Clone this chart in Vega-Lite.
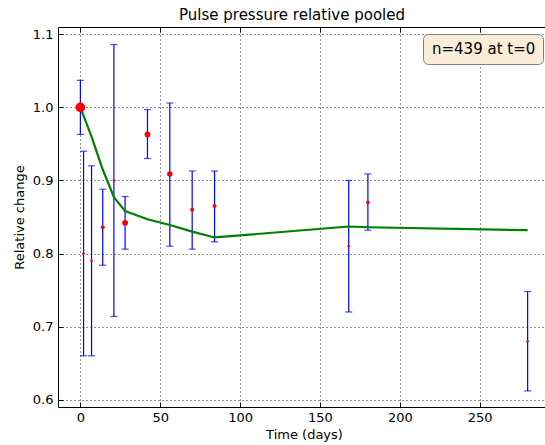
{
  "$schema": "https://vega.github.io/schema/vega-lite/v6.json",
  "width": 492,
  "height": 380,
  "autosize": {"type": "none"},
  "padding": {"left": 58, "top": 27, "right": 0, "bottom": 38},
  "title": {"text": "Pulse pressure relative pooled", "font": "DejaVu Sans", "fontSize": 15, "fontWeight": "normal", "color": "black", "offset": 4, "dx": -12},
  "config": {
    "view": {"stroke": "black", "strokeWidth": 1},
    "axis": {
      "labelFont": "DejaVu Sans", "labelFontSize": 13, "labelColor": "black",
      "titleFont": "DejaVu Sans", "titleFontSize": 13, "titleFontWeight": "normal", "titleColor": "black",
      "grid": true, "gridColor": "#222222", "gridDash": [1, 3], "gridWidth": 1,
      "domain": false, "tickColor": "black", "tickSize": -5, "tickWidth": 1
    }
  },
  "resolve": {"axis": {"x": "independent"}},
  "datasets": {
    "obs": [
      {"t": 0, "y": 1.0, "lo": 0.963, "hi": 1.037, "n": 439},
      {"t": 2, "y": 0.80, "lo": 0.66, "hi": 0.94, "n": 120},
      {"t": 7, "y": 0.79, "lo": 0.66, "hi": 0.92, "n": 120},
      {"t": 14, "y": 0.836, "lo": 0.784, "hi": 0.888, "n": 180},
      {"t": 21, "y": 0.90, "lo": 0.714, "hi": 1.086, "n": 110},
      {"t": 28, "y": 0.842, "lo": 0.806, "hi": 0.878, "n": 267},
      {"t": 42, "y": 0.963, "lo": 0.93, "hi": 0.997, "n": 260},
      {"t": 56, "y": 0.909, "lo": 0.81, "hi": 1.006, "n": 245},
      {"t": 70, "y": 0.86, "lo": 0.806, "hi": 0.913, "n": 180},
      {"t": 84, "y": 0.865, "lo": 0.816, "hi": 0.913, "n": 180},
      {"t": 168, "y": 0.81, "lo": 0.72, "hi": 0.90, "n": 120},
      {"t": 180, "y": 0.870, "lo": 0.832, "hi": 0.909, "n": 160},
      {"t": 280, "y": 0.68, "lo": 0.612, "hi": 0.748, "n": 115}
    ],
    "fit": [
      {"t": 0, "y": 1.0},
      {"t": 7, "y": 0.96},
      {"t": 14, "y": 0.915},
      {"t": 21, "y": 0.877},
      {"t": 28, "y": 0.858},
      {"t": 42, "y": 0.847},
      {"t": 56, "y": 0.839},
      {"t": 70, "y": 0.83},
      {"t": 84, "y": 0.822},
      {"t": 168, "y": 0.837},
      {"t": 180, "y": 0.836},
      {"t": 280, "y": 0.832}
    ],
    "note": [{"note": "n=439 at t=0"}]
  },
  "layer": [
    {
      "data": {"name": "obs"},
      "mark": {"type": "rule", "color": "#0000ff", "strokeWidth": 1.2},
      "encoding": {
        "x": {"field": "t", "type": "quantitative", "scale": {"domain": [-14, 294], "nice": false, "zero": false},
              "axis": {"orient": "bottom", "values": [0, 50, 100, 150, 200, 250], "title": "Time (days)", "labelPadding": 9, "titlePadding": 4}},
        "y": {"field": "lo", "type": "quantitative", "scale": {"domain": [0.59, 1.11], "nice": false, "zero": false},
              "axis": {"values": [0.6, 0.7, 0.8, 0.9, 1.0, 1.1], "format": ".1f", "title": "Relative change", "labelPadding": 10, "titlePadding": 6}},
        "y2": {"field": "hi"}
      }
    },
    {
      "data": {"name": "obs"},
      "mark": {"type": "tick", "orient": "horizontal", "color": "#0000ff", "size": 7, "thickness": 1.2},
      "encoding": {
        "x": {"field": "t", "type": "quantitative", "axis": {"orient": "top", "values": [0, 50, 100, 150, 200, 250], "labels": false, "grid": false, "title": null}},
        "y": {"field": "hi", "type": "quantitative"}
      }
    },
    {
      "data": {"name": "obs"},
      "mark": {"type": "tick", "orient": "horizontal", "color": "#0000ff", "size": 7, "thickness": 1.2},
      "encoding": {
        "x": {"field": "t", "type": "quantitative", "axis": null},
        "y": {"field": "lo", "type": "quantitative"}
      }
    },
    {
      "data": {"name": "fit"},
      "mark": {"type": "line", "color": "#008000", "strokeWidth": 2.2},
      "encoding": {
        "x": {"field": "t", "type": "quantitative", "axis": null},
        "y": {"field": "y", "type": "quantitative"}
      }
    },
    {
      "data": {"name": "obs"},
      "mark": {"type": "circle", "color": "#ff0000", "opacity": 1},
      "encoding": {
        "x": {"field": "t", "type": "quantitative", "axis": null},
        "y": {"field": "y", "type": "quantitative"},
        "size": {"field": "n", "type": "quantitative", "scale": {"type": "pow", "exponent": 2, "domain": [0, 439], "range": [0, 95]}, "legend": null}
      }
    },
    {
      "data": {"name": "note"},
      "mark": {"type": "point", "opacity": 0, "size": 0},
      "encoding": {
        "color": {"field": "note", "type": "nominal", "scale": {"range": ["#faeed9"]},
                  "legend": {"orient": "top-right", "offset": 7, "title": null,
                             "fillColor": "#faeed9", "strokeColor": "#808080", "cornerRadius": 5, "padding": 7,
                             "labelFont": "DejaVu Sans", "labelFontSize": 15, "labelColor": "black", "labelOffset": -13,
                             "symbolSize": 0, "symbolStrokeWidth": 0, "symbolOpacity": 0}}
      }
    }
  ]
}
